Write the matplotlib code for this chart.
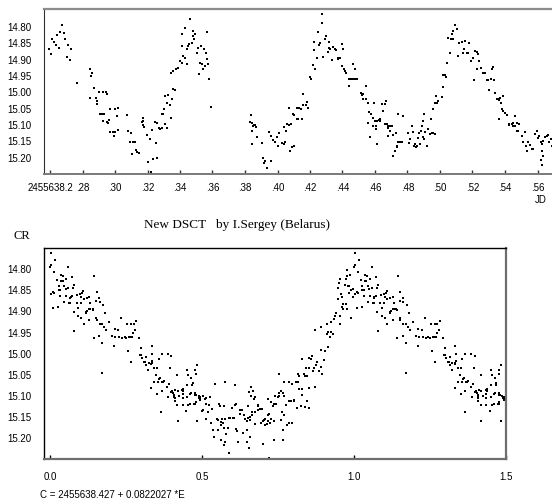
"""Light curve of a new DSCT star and its phase diagram."""

import matplotlib

matplotlib.use("Agg")
from matplotlib import pyplot as plt

# Observations: JD - 2455638 and magnitude
jd = [
    0.2594, 0.2604, 0.2610, 0.2625, 0.2637, 0.2645, 0.2653, 0.2662, 0.2674, 0.2686,
    0.2692, 0.2703, 0.2713, 0.2723, 0.2731, 0.2768, 0.2846, 0.2850, 0.2856, 0.2846,
    0.2873, 0.2883, 0.2887, 0.2891, 0.2903, 0.2908, 0.2918, 0.2928, 0.2932, 0.2944,
    0.2953, 0.2953, 0.2959, 0.2969, 0.3000, 0.3010, 0.3020, 0.3072, 0.2928, 0.2965,
    0.2969, 0.2985, 0.3000, 0.2994, 0.3020, 0.3082, 0.3096, 0.3092, 0.3113, 0.3123,
    0.3102, 0.3129, 0.3133, 0.3149, 0.3164, 0.3170, 0.3178, 0.3195, 0.3201, 0.3215,
    0.3225, 0.3231, 0.3246, 0.3250, 0.3256, 0.3272, 0.3277, 0.3307, 0.3322, 0.3219,
    0.3170, 0.3174, 0.3256, 0.3287, 0.3291, 0.3297, 0.3301, 0.3307, 0.3318, 0.3328,
    0.3338, 0.3348, 0.3359, 0.3369, 0.3342, 0.3344, 0.3359, 0.3375, 0.3385, 0.3400,
    0.3410, 0.3416, 0.3430, 0.3410, 0.3412, 0.3430, 0.3441, 0.3445, 0.3451, 0.3457,
    0.3461, 0.3471, 0.3477, 0.3482, 0.3486, 0.3492, 0.3502, 0.3508, 0.3514, 0.3523,
    0.3529, 0.3533, 0.3539, 0.3547, 0.3553, 0.3557, 0.3564, 0.3568, 0.3572, 0.3580,
    0.3590, 0.3834, 0.3840, 0.3855, 0.3830, 0.3840, 0.3846, 0.3851, 0.3861, 0.3867,
    0.3875, 0.3902, 0.3912, 0.3918, 0.3922, 0.3933, 0.3949, 0.3957, 0.3963, 0.3974,
    0.3984, 0.3994, 0.4004, 0.4010, 0.4027, 0.4037, 0.4047, 0.4053, 0.4068, 0.4078,
    0.4088, 0.4103, 0.4037, 0.4057, 0.4068, 0.4082, 0.4094, 0.4103, 0.4119, 0.4123,
    0.4129, 0.4135, 0.4144, 0.4150, 0.4156, 0.4160, 0.4176, 0.4180, 0.4185, 0.4197,
    0.4205, 0.4217, 0.4232, 0.4226, 0.4226, 0.4242, 0.4252, 0.4258, 0.4262, 0.4273,
    0.4273, 0.4279, 0.4293, 0.4299, 0.4308, 0.4314, 0.4320, 0.4324, 0.4334, 0.4344,
    0.4355, 0.4361, 0.4371, 0.4375, 0.4385, 0.4396, 0.4402, 0.4396, 0.4410, 0.4416,
    0.4422, 0.4437, 0.4443, 0.4447, 0.4457, 0.4463, 0.4472, 0.4478, 0.4484, 0.4492,
    0.4513, 0.4519, 0.4525, 0.4529, 0.4545, 0.4545, 0.4560, 0.4566, 0.4574, 0.4586,
    0.4595, 0.4601, 0.4607, 0.4615, 0.4627, 0.4631, 0.4642, 0.4652, 0.4662, 0.4668,
    0.4672, 0.4677, 0.4693, 0.4744, 0.4771, 0.4894, 0.4902, 0.4943, 0.4959, 0.4970,
    0.4976, 0.4984, 0.4990, 0.5011, 0.5021, 0.5021, 0.5031, 0.5037, 0.5041, 0.5052,
    0.5062, 0.5068, 0.5072, 0.5078, 0.5082, 0.5093, 0.5103, 0.5113, 0.5119, 0.5134,
    0.5144, 0.5148, 0.5154, 0.5164, 0.5175, 0.5181, 0.5189, 0.5201, 0.5216, 0.5226,
    0.5236, 0.5242, 0.5226, 0.5210, 0.5251, 0.5267, 0.5277, 0.5287, 0.5298, 0.5312,
    0.5318, 0.5324, 0.5333, 0.5304, 0.5339, 0.5349, 0.5359, 0.5365, 0.5369, 0.5374,
    0.5386, 0.5380, 0.5390, 0.5400, 0.5415, 0.5365, 0.5427, 0.5441, 0.5451, 0.5462,
    0.5472, 0.4560, 0.4570, 0.4590, 0.4607, 0.4615, 0.4631, 0.4662, 0.4677, 0.4683,
    0.4693, 0.4703, 0.4709, 0.4713, 0.4724, 0.4730, 0.4734, 0.4738, 0.4744, 0.4754,
    0.4765, 0.4806, 0.4812, 0.4816, 0.4826, 0.4832, 0.4841, 0.4847, 0.4853, 0.4857,
    0.4863, 0.4873, 0.4877, 0.4882, 0.4888, 0.4894, 0.4898, 0.4902, 0.4908, 0.4918,
    0.4929, 0.4939, 0.4949, 0.4959, 0.4970, 0.5427, 0.5451, 0.5462, 0.5472, 0.5482,
    0.5488, 0.5503, 0.5513, 0.5523, 0.5529, 0.5533, 0.5544, 0.5554, 0.5564, 0.5574,
    0.5585, 0.5595, 0.5605, 0.5611, 0.5620, 0.5626, 0.5632, 0.5646, 0.5656, 0.5667,
    0.5626, 0.5624, 0.5630, 0.5634, 0.5673, 0.5681, 0.5687,
]
mag = [
    14.869, 14.885, 14.841, 14.849, 14.859, 14.828, 14.866, 14.818, 14.798, 14.820,
    14.839, 14.894, 14.859, 14.904, 14.869, 14.976, 14.933, 14.953, 14.945, 15.021,
    14.989, 15.021, 15.030, 15.040, 15.002, 15.070, 15.068, 15.002, 15.070, 15.002,
    15.007, 15.093, 15.096, 15.053, 15.053, 15.075, 15.050, 15.073, 15.090, 15.087,
    15.123, 15.123, 15.123, 15.138, 15.117, 15.120, 15.126, 15.156, 15.154, 15.154,
    15.192, 15.179, 15.185, 15.189, 15.093, 15.103, 15.110, 15.134, 15.215, 15.146,
    15.117, 15.207, 15.095, 15.158, 15.205, 15.113, 15.115, 15.100, 15.113, 15.248,
    15.081, 15.091, 15.096, 15.111, 15.070, 15.068, 15.055, 15.014, 15.037, 15.012,
    15.043, 15.022, 14.994, 14.996, 15.081, 14.945, 14.938, 14.933, 14.928, 14.907,
    14.912, 14.892, 14.897, 14.826, 14.861, 14.805, 14.917, 14.869, 14.861, 14.856,
    14.780, 14.851, 14.815, 14.831, 14.841, 14.826, 14.882, 14.866, 14.948, 14.912,
    14.861, 14.917, 14.933, 14.871, 14.922, 14.882, 14.900, 14.818, 14.917, 14.961,
    15.047, 15.072, 15.096, 15.104, 15.095, 15.122, 15.161, 15.107, 15.103, 15.110,
    15.141, 15.158, 15.205, 15.219, 15.212, 15.236, 15.123, 15.212, 15.136, 15.148,
    15.154, 15.141, 15.168, 15.126, 15.158, 15.161, 15.156, 15.120, 15.103, 15.182,
    15.171, 15.166, 15.109, 15.101, 15.050, 15.101, 15.070, 15.073, 15.050, 15.086,
    15.086, 15.050, 15.055, 15.084, 15.007, 15.043, 15.043, 15.033, 15.050, 14.955,
    14.963, 14.920, 14.931, 14.873, 14.848, 14.897, 14.818, 14.858, 14.851, 14.792,
    14.764, 14.894, 14.841, 14.831, 14.880, 14.866, 14.848, 14.871, 14.904, 14.863,
    14.869, 14.873, 14.902, 14.897, 14.897, 14.856, 14.871, 14.922, 14.931, 14.938,
    14.945, 14.961, 14.984, 14.963, 14.963, 14.917, 14.963, 14.931, 14.963, 14.963,
    15.006, 15.012, 15.022, 15.009, 14.984, 15.024, 15.037, 15.063, 15.070, 15.081,
    15.037, 15.091, 15.106, 15.091, 15.088, 15.086, 15.040, 15.060, 15.040, 15.030,
    15.101, 15.111, 15.106, 15.068, 15.075, 15.091, 15.070, 15.086, 15.055, 15.035,
    15.014, 15.037, 15.030, 15.016, 14.986, 14.951, 14.951, 14.955, 14.914, 14.836,
    14.884, 14.839, 14.826, 14.841, 14.815, 14.798, 14.808, 14.892, 14.851, 14.849,
    14.882, 14.869, 14.846, 14.882, 14.882, 14.853, 14.907, 14.897, 14.877, 14.880,
    14.887, 14.907, 14.933, 14.965, 14.928, 14.943, 14.945, 14.965, 14.965, 14.963,
    14.933, 14.924, 14.965, 14.996, 15.006, 15.022, 15.024, 15.026, 15.019, 15.035,
    15.014, 15.053, 15.060, 15.067, 15.073, 15.084, 15.104, 15.101, 15.106, 15.075,
    15.098, 15.097, 15.141, 15.105, 15.115, 15.161, 15.090, 15.100, 15.107, 15.136,
    15.120, 15.105, 15.134, 15.199, 15.182, 15.126, 15.171, 15.166, 15.156, 15.154,
    15.154, 15.126, 15.158, 15.146, 15.105, 15.123, 15.166, 15.161, 15.171, 15.168,
    15.144, 15.126, 15.161, 15.120, 15.105, 15.090, 15.141, 15.146, 15.123, 15.166,
    15.115, 15.131, 15.126, 15.128, 15.131, 15.100, 15.097, 15.105, 15.120, 15.120,
    15.100, 15.138, 15.156, 15.123, 15.166, 15.182, 15.156, 15.164, 15.177, 15.177,
    15.131, 15.120, 15.144, 15.136, 15.156, 15.161, 15.151, 15.141, 15.136, 15.134,
    15.182, 15.211, 15.226, 15.198, 15.156, 15.146, 15.166,
]

# Ephemeris from the caption
EPOCH = 0.427
PERIOD = 0.0822027

jd_ticks = [0.26, 0.28, 0.30, 0.32, 0.34, 0.36, 0.38, 0.40, 0.42, 0.44, 0.46, 0.48, 0.50, 0.52, 0.54, 0.56]
jd_tick_labels = ["2455638.2", ".28", ".30", ".32", ".34", ".36", ".38", ".40",
                  ".42", ".44", ".46", ".48", ".50", ".52", ".54", ".56"]
mag_ticks = [14.80, 14.85, 14.90, 14.95, 15.00, 15.05, 15.10, 15.15, 15.20]
phase_ticks = [0.0, 0.5, 1.0, 1.5]

SANS = "Liberation Sans"
SERIF = "Liberation Serif"

phase = [((t - EPOCH) / PERIOD) % 1.0 for t in jd]
phase_x = phase + [p + 1.0 for p in phase if p + 1.0 <= 1.5]
phase_y = mag + [m for p, m in zip(phase, mag) if p + 1.0 <= 1.5]

W, H = 552, 502
fig = plt.figure(figsize=(W / 100, H / 100), dpi=100)
fig.patch.set_facecolor("white")


def style_axes(ax):
    ax.tick_params(axis="x", direction="in", length=3, width=1, pad=6, labelsize=7)
    ax.tick_params(axis="y", length=0, pad=9, labelsize=7)
    for label in ax.get_xticklabels() + ax.get_yticklabels():
        label.set_fontfamily(SANS)
    ax.set_yticks(mag_ticks)
    ax.set_yticklabels([f"{v:.2f}" for v in mag_ticks], fontfamily=SANS)


# Upper panel: light curve
ax1 = fig.add_axes((44 / W, 1 - 175 / H, 1 - 44 / W, 165 / H))
ax1.plot(jd, mag, "s", color="black", ms=1.5, mew=0)
ax1.set_xlim(0.26 - 6 * 0.02 / 32.5, 0.26 + 502 * 0.02 / 32.5)
ax1.set_ylim(15.253, 14.748)
ax1.set_xticks(jd_ticks)
ax1.set_xticklabels(jd_tick_labels)
style_axes(ax1)
ax1.spines["right"].set_visible(False)
ax1.spines["top"].set_color("#8c8c8c")
ax1.spines["top"].set_linewidth(1.6)
ax1.spines["bottom"].set_color("#7a7a7a")
ax1.spines["bottom"].set_linewidth(1.4)
ax1.spines["left"].set_color("#303030")
ax1.tick_params(axis="x", colors="#303030", labelcolor="black")

# Lower panel: phase diagram
ax2 = fig.add_axes((44 / W, 1 - 460 / H, (505.7 - 44) / W, (460 - 249.3) / H))
ax2.plot(phase_x, phase_y, "s", color="black", ms=1.5, mew=0)
ax2.set_xlim(-6 / 303.8, 1.5)
ax2.set_ylim(15.251, 14.753)
ax2.set_xticks(phase_ticks)
ax2.set_xticklabels([f"{v:.1f}" for v in phase_ticks])
style_axes(ax2)
ax2.tick_params(axis="x", pad=9)
for side in ("left", "top"):
    ax2.spines[side].set_color("black")
    ax2.spines[side].set_linewidth(1.0)
for side in ("right", "bottom"):
    ax2.spines[side].set_color("#6e6e6e")
    ax2.spines[side].set_linewidth(1.6)

# Texts
fig.text(547 / W, 1 - 200 / H, "JD", fontsize=7, fontfamily=SANS, ha="right", va="center")
fig.text(14 / W, 1 - 236 / H, "CR", fontsize=9, fontfamily=SERIF, ha="left", va="center")
fig.text(237 / W, 1 - 225 / H, "New DSCT   by I.Sergey (Belarus)", fontsize=9.5,
         fontfamily=SERIF, ha="center", va="center")
fig.text(40 / W, 1 - 495 / H, "C = 2455638.427 + 0.0822027 *E", fontsize=7,
         fontfamily=SANS, ha="left", va="center")

fig.savefig("out.png", dpi=100, facecolor="white")
